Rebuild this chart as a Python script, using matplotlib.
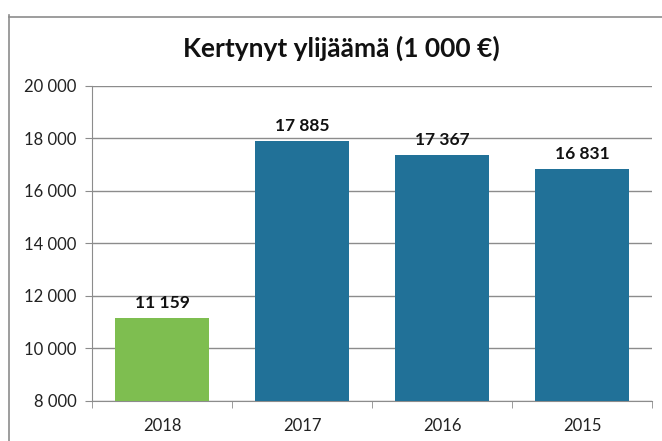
import matplotlib
matplotlib.use('Agg')
import matplotlib.pyplot as plt
from matplotlib.lines import Line2D
from matplotlib.ticker import FuncFormatter, MultipleLocator

vuodet = ['2018', '2017', '2016', '2015']
ylijaama = [11159, 17885, 17367, 16831]
varit = ['#7EBE50', '#217198', '#217198', '#217198']

plt.rcParams['font.family'] = ['Lato', 'DejaVu Sans']


def tuhannet(v, pos=None):
    return f'{int(v):,}'.replace(',', ' ')


fig = plt.figure(figsize=(6.62, 4.41), dpi=100)
ax = fig.add_axes([0.139, 0.091, 0.846, 0.714])

x = range(len(vuodet))
palkit = ax.bar(x, ylijaama, width=0.67, color=varit, zorder=3)

ax.set_ylim(8000, 20000)
ax.set_xlim(-0.5, len(vuodet) - 0.5)
ax.yaxis.set_major_locator(MultipleLocator(2000))
ax.yaxis.set_major_formatter(FuncFormatter(tuhannet))
ax.grid(axis='y', color='#8c8c8c', linewidth=1, zorder=0)

ax.set_xticks(list(x))
ax.set_xticklabels(vuodet)
ax.set_xticks([i + 0.5 for i in range(-1, len(vuodet))], minor=True)
ax.tick_params(axis='x', which='major', length=0, pad=12, labelsize=12, colors='#222222')
ax.tick_params(axis='x', which='minor', length=5, color='#8c8c8c')
ax.tick_params(axis='y', length=5, color='#8c8c8c', labelsize=12, labelcolor='#222222', pad=6)

for s in ['top', 'right']:
    ax.spines[s].set_visible(False)
for s in ['left', 'bottom']:
    ax.spines[s].set_color('#8c8c8c')

for p, v in zip(palkit, ylijaama):
    ax.text(p.get_x() + p.get_width() / 2, v + 280, tuhannet(v),
            ha='center', va='bottom', fontsize=12.5, fontweight='bold', color='#111111')

fig.text(0.515, 0.89, 'Kertynyt ylijäämä (1 000 €)', ha='center', va='center',
         fontsize=19, fontweight='bold', color='#111111')

# kaavion reunat (vasen ja ylä)
fig.add_artist(Line2D([9 / 662, 9 / 662], [0, 1 - 15 / 441], transform=fig.transFigure,
                      color='#8c8c8c', linewidth=1.2))
fig.add_artist(Line2D([9 / 662, 1], [1 - 17 / 441, 1 - 17 / 441], transform=fig.transFigure,
                      color='#8c8c8c', linewidth=1.2))

fig.savefig('out.png', dpi=100, facecolor='white')
plt.close(fig)
